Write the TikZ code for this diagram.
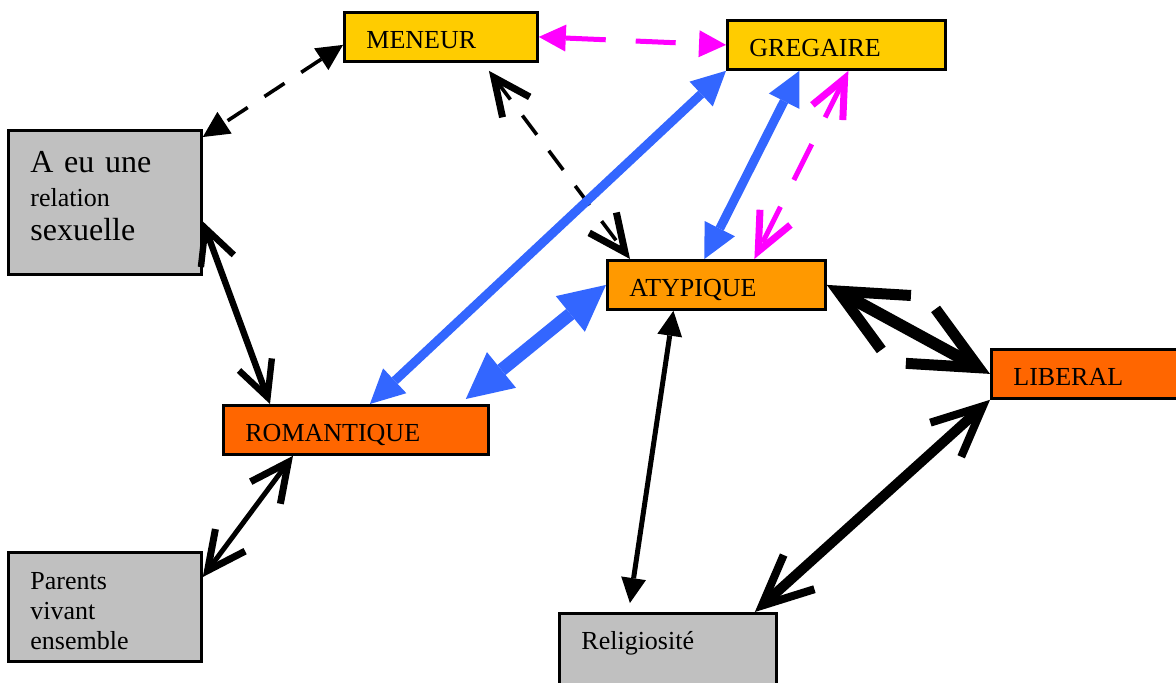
\documentclass[tikz,border=0pt]{standalone}
\usepackage{fontspec}
\setmainfont{Liberation Serif}
\usetikzlibrary{arrows.meta}

\definecolor{jaune}{HTML}{FFCC00}
\definecolor{orangeclair}{HTML}{FF9900}
\definecolor{orangefonce}{HTML}{FF6600}
\definecolor{gris}{HTML}{C0C0C0}
\definecolor{bleu}{HTML}{3366FF}
\definecolor{rose}{HTML}{FF00FF}

\begin{document}
\begin{tikzpicture}[x=0.5pt,y=-0.5pt]

                \tikzset{box/.style = {draw,line width=1.4pt,anchor=north west,align=left,
                        inner xsep=11pt,inner ysep=0pt,font=\fontsize{13}{15}\selectfont}}
                \tikzset{single/.style = {box,minimum height=24.5pt,text height=11.5pt,text depth=0pt}}
                \tikzset{both/.style = {arrows = {Triangle[length=#1,width=#1,line width=0pt]-Triangle[length=#1,width=#1,line width=0pt]}}}
                \tikzset{barbs/.style n args = {3}{arrows = {Straight Barb[length=#1,width=#2,line width=#3,sharp]-Straight Barb[length=#1,width=#2,line width=#3,sharp]}}}
                \tikzset{blackdash/.style = {dash pattern=on 12pt off 10pt}}
                \tikzset{pinkdash/.style = {rose,dash pattern=on 20pt off 15pt}}

                \useasboundingbox (0,0) rectangle (1176,682);

                \node[single,fill=jaune,text width=74.5pt] (meneur) at (343,11) {MENEUR};
                \node[single,fill=jaune,text width=87pt] (gregaire) at (726,19) {GREGAIRE};
                \node[single,fill=orangeclair,text width=87pt] (atyp) at (606,259) {ATYPIQUE};
                \node[single,fill=orangefonce,text width=88pt] (liberal) at (990,348) {LIBERAL};
                \node[single,fill=orangefonce,text width=110.5pt] (roman) at (222,404) {ROMANTIQUE};
                \node[box,fill=gris,text width=74.5pt,minimum height=72pt,text depth=40pt,font=\fontsize{16}{17}\selectfont] (sexe) at (7,129)
                        {A eu une\\{\fontsize{13}{16}\selectfont relation}\\sexuelle};
                \node[box,fill=gris,text width=74.5pt,minimum height=54.5pt,text height=13pt] (parents) at (7,551)
                        {Parents\\vivant\\ensemble};
                \node[box,fill=gris,text width=86.5pt,minimum height=44pt,text height=11.5pt,text depth=19.5pt] (relig) at (558,612)
                        {Religiosité};

                \draw[blackdash,line width=1.8pt,both=13pt] ([yshift=-4pt]meneur.west) to ([yshift=-4pt]sexe.north east);
                \draw[pinkdash,line width=2.5pt,both=13.5pt] (meneur.east) to (gregaire.west);
                \draw[blackdash,line width=1.8pt,barbs={18.5pt}{17pt}{3.5pt}] ([xshift=24pt,yshift=-4pt]meneur.south) to ([xshift=12pt]atyp.north west);
                \draw[bleu,line width=4.5pt,both=17pt] (gregaire.south west) to ([xshift=7pt]roman.north);
                \draw[bleu,line width=4.5pt,both=17pt] ([xshift=-18.5pt]gregaire.south) to ([xshift=-6pt]atyp.north);
                \draw[pinkdash,line width=2.5pt,barbs={19pt}{17pt}{3.5pt}] ([xshift=6pt]gregaire.south) to ([xshift=19pt]atyp.north);
                \draw[bleu,line width=6.5pt,both=23pt] (atyp.west) to ([xshift=-12pt,yshift=2.5pt]roman.north east);
                \draw[line width=3.2pt,barbs={17.5pt}{17.5pt}{3.2pt}] ([yshift=-9.5pt]sexe.east) to ([xshift=24pt]roman.north west);
                \draw[line width=2.5pt,barbs={19pt}{18.5pt}{3.5pt}] ([xshift=35.5pt]roman.south west) to ([yshift=-13pt]parents.north east);
                \draw[line width=2.5pt,both=12.5pt] ([xshift=-21.5pt]atyp.south) to ([xshift=-19pt,yshift=4.5pt]relig.north);
                \draw[line width=6pt,barbs={33pt}{31pt}{5.5pt}] (atyp.east) to (liberal.west);
                \draw[line width=5pt,barbs={25pt}{23pt}{4pt}] (liberal.south west) to ([xshift=-11.5pt]relig.north east);

            \end{tikzpicture}
\end{document}
